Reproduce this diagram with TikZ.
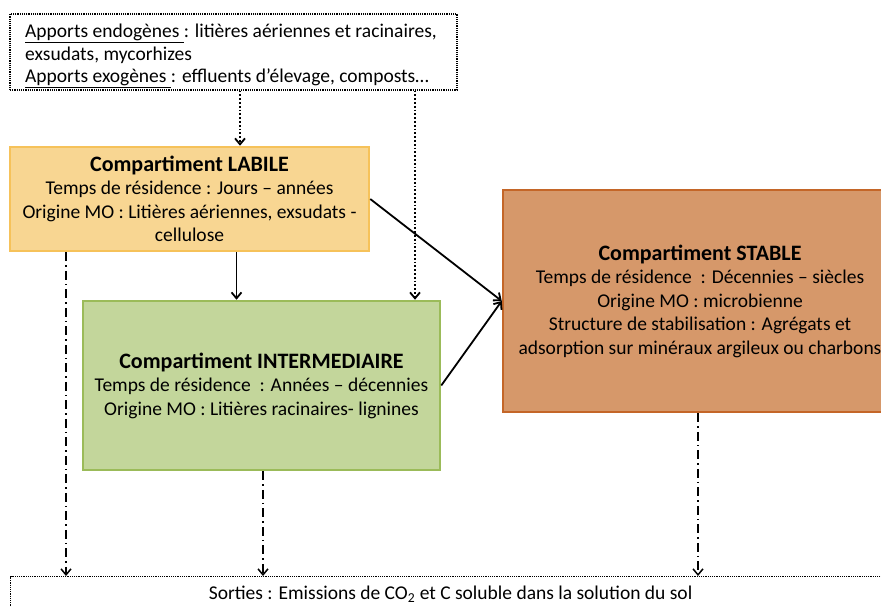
\documentclass[tikz,border=0pt]{standalone}
\usepackage{fontspec}
\setmainfont{Carlito}
\usetikzlibrary{arrows.meta}

\begin{document}
\begin{tikzpicture}[x=1pt, y=-1pt, >={Straight Barb[length=6pt,width=10pt]},
    % Define the style for each compartment
    box/.style={rectangle, draw, line width=2.5pt, align=center, inner sep=0pt,
        font=\fontsize{19.5}{23.5}\selectfont},
    labile box/.style={box, fill=labileFill, draw=labileLine},
    inter box/.style={box, fill=interFill, draw=interLine},
    stable box/.style={box, fill=stableFill, draw=stableLine},
    source box/.style={rectangle, draw, densely dotted, line width=1.2pt, inner sep=0pt,
        font=\fontsize{19.5}{23.5}\selectfont},
    % Define the style for the connecting lines
    flux/.style={->, line width=1.8pt},
    apport/.style={->, line width=1.8pt, dotted},
    sortie/.style={->, line width=1.5pt, dash pattern=on 9pt off 4pt on 1.5pt off 4pt}
]
\definecolor{labileFill}{RGB}{248,214,146}
\definecolor{labileLine}{RGB}{246,194,90}
\definecolor{interFill}{RGB}{195,214,155}
\definecolor{interLine}{RGB}{155,187,89}
\definecolor{stableFill}{RGB}{214,152,106}
\definecolor{stableLine}{RGB}{196,102,40}

\useasboundingbox (0,0) rectangle (881,607);
\clip (0,0) rectangle (881,607);

% Inputs
\node[source box, minimum width=447pt, minimum height=76pt] (apports) at (233.5,52) {};
\node[anchor=west, align=left, inner sep=0pt, font=\fontsize{19.5}{22.5}\selectfont] (apports-text) at (25,56)
    {\underline{Apports endogènes }: litières aériennes et racinaires,\\
     exsudats, mycorhizes\\
     \underline{Apports exogènes }: effluents d’élevage, composts…};

% Compartments
\node[labile box, minimum width=359pt, minimum height=104pt] (labile) at (189.5,199)
    {\textbf{\fontsize{22}{23.5}\selectfont Compartiment LABILE}\\
     Temps de résidence : Jours – années\\
     Origine MO : Litières aériennes, exsudats -\\
     cellulose};
\node[inter box, minimum width=357pt, minimum height=169pt] (inter) at (261.5,385.5)
    {\textbf{\fontsize{22}{23.5}\selectfont Compartiment INTERMEDIAIRE}\\
     Temps de résidence~~: Années – décennies\\
     Origine MO : Litières racinaires- lignines};
\node[stable box, minimum width=394pt, minimum height=222pt] (stable) at (700,301)
    {\textbf{\fontsize{22}{24}\selectfont Compartiment STABLE}\\
     Temps de résidence~~: Décennies – siècles\\
     Origine MO : microbienne\\
     Structure de stabilisation : Agrégats et\\
     adsorption sur minéraux argileux ou charbons};

% Outputs
\node[source box, minimum width=880pt, minimum height=36pt, anchor=north west] (sorties) at (10,576)
    {Sorties : Emissions de CO\textsubscript{2} et C soluble dans la solution du sol};

% Input arrows
\draw[apport] ([xshift=6.5pt]apports.south) -- ([xshift=6.5pt]apports.south |- labile.north);
\draw[apport] ([xshift=181.5pt]apports.south) -- ([xshift=181.5pt]apports.south |- inter.north);

% Transfers between compartments
\draw[flux] ([xshift=47pt]labile.south) -- ([xshift=47pt]labile.south |- inter.north);
\draw[flux] (labile.east) -- (stable.west);
\draw[flux] (inter.east) -- (stable.west);

% Outputs arrows
\draw[sortie] ([xshift=-123.5pt]labile.south) -- ([xshift=-123.5pt]labile.south |- sorties.north);
\draw[sortie] ([xshift=1.5pt]inter.south) -- ([xshift=1.5pt]inter.south |- sorties.north);
\draw[sortie] ([xshift=-2pt]stable.south) -- ([xshift=-2pt]stable.south |- sorties.north);

\end{tikzpicture}
\end{document}
